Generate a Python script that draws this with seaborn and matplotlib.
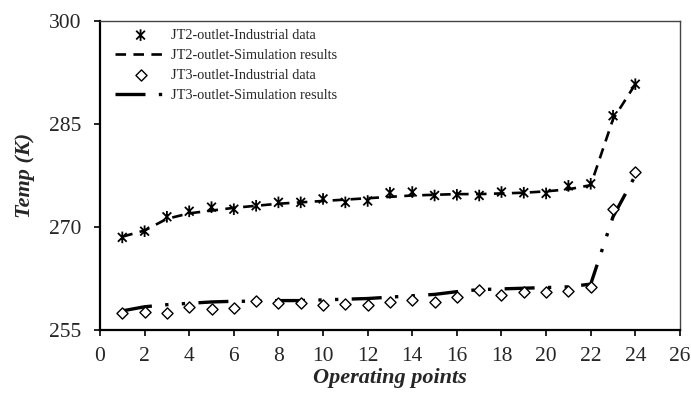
import matplotlib
matplotlib.use("Agg")
import matplotlib.pyplot as plt
from matplotlib.path import Path
import seaborn as sns
import pandas as pd

# Operating points and outlet temperatures (K)
points = list(range(1, 25))
jt2_industrial = [268.5, 269.4, 271.5, 272.3, 272.9, 272.6, 273.1, 273.6, 273.6, 274.1,
                  273.6, 273.8, 275.0, 275.1, 274.6, 274.7, 274.6, 275.1, 275.0, 274.9,
                  276.0, 276.3, 286.2, 290.8]
jt2_simulation = [268.6, 269.5, 271.2, 272.0, 272.4, 272.8, 273.1, 273.4, 273.6, 273.8,
                  274.0, 274.2, 274.4, 274.6, 274.7, 274.8, 274.8, 274.9, 275.0, 275.2,
                  275.5, 276.1, 285.7, 290.8]
jt3_industrial = [257.5, 257.6, 257.5, 258.3, 258.1, 258.2, 259.2, 258.9, 258.9, 258.6,
                  258.8, 258.6, 259.1, 259.4, 259.1, 259.8, 260.8, 260.1, 260.5, 260.5,
                  260.7, 261.3, 272.6, 278.0]
jt3_simulation = [257.8, 258.4, 258.7, 258.9, 259.1, 259.2, 259.2, 259.3, 259.3, 259.4,
                  259.5, 259.6, 259.8, 260.0, 260.2, 260.6, 260.9, 261.0, 261.1, 261.2,
                  261.3, 261.7, 271.5, 277.5]

labels = ["JT2-outlet-Industrial data", "JT2-outlet-Simulation results",
          "JT3-outlet-Industrial data", "JT3-outlet-Simulation results"]
x_ticks = list(range(0, 27, 2))
y_ticks = [255, 270, 285, 300]

df = pd.DataFrame({"point": points, "jt2_ind": jt2_industrial, "jt2_sim": jt2_simulation,
                   "jt3_ind": jt3_industrial, "jt3_sim": jt3_simulation})

sns.set_theme(style="white")
plt.rcParams["font.family"] = ["Liberation Serif", "DejaVu Serif"]

fig = plt.figure(figsize=(6.91, 3.93), dpi=100)
ax = fig.add_axes([0.1447, 0.160, 0.8393, 0.7866])

# star marker: an X crossed by a vertical bar
star = Path([(0, -1), (0, 1), (-0.75, -0.75), (0.75, 0.75), (-0.75, 0.75), (0.75, -0.75)],
            [Path.MOVETO, Path.LINETO, Path.MOVETO, Path.LINETO, Path.MOVETO, Path.LINETO])

sns.scatterplot(data=df, x="point", y="jt2_ind", ax=ax, marker=star, s=70,
                facecolor="none", edgecolor="black", linewidth=1.3, label=labels[0], zorder=3)
sns.lineplot(data=df, x="point", y="jt2_sim", ax=ax, color="black", lw=1.9,
             linestyle=(0, (4.0, 2.8)), label=labels[1], zorder=2)
sns.scatterplot(data=df, x="point", y="jt3_ind", ax=ax, marker="D", s=32,
                facecolor="white", edgecolor="black", linewidth=1.0, label=labels[2], zorder=3)
sns.lineplot(data=df, x="point", y="jt3_sim", ax=ax, color="black", lw=2.4,
             linestyle=(0, (9.0, 4.0, 1.0, 4.0, 1.0, 4.0)), label=labels[3], zorder=2)

ax.set_xlim(0, 26)
ax.set_ylim(255, 300)
ax.set_xticks(x_ticks)
ax.set_yticks(y_ticks)
ax.tick_params(axis="both", which="major", direction="out", length=4, width=1.2,
               color="black", labelsize=15.5, bottom=True, left=True)
ax.tick_params(axis="y", pad=9.5)
ax.tick_params(axis="x", pad=8)

for side in ("left", "bottom"):
    ax.spines[side].set_color("black")
    ax.spines[side].set_linewidth(1.6)
for side in ("top", "right"):
    ax.spines[side].set_color("#444444")
    ax.spines[side].set_linewidth(1.0)

ax.set_xlabel("Operating points", fontsize=16, fontweight="bold", fontstyle="italic")
ax.set_ylabel("Temp (K)", fontsize=16, fontweight="bold", fontstyle="italic")
ax.xaxis.set_label_coords(0.5, -0.122)
ax.yaxis.set_label_coords(-0.112, 0.5)

leg = ax.legend(loc="upper left", bbox_to_anchor=(0.012, 1.0), frameon=False,
                fontsize=10.3, handlelength=3.6, handletextpad=0.35, labelspacing=0.48,
                borderaxespad=0.15)

fig.savefig("out.png", dpi=100)
